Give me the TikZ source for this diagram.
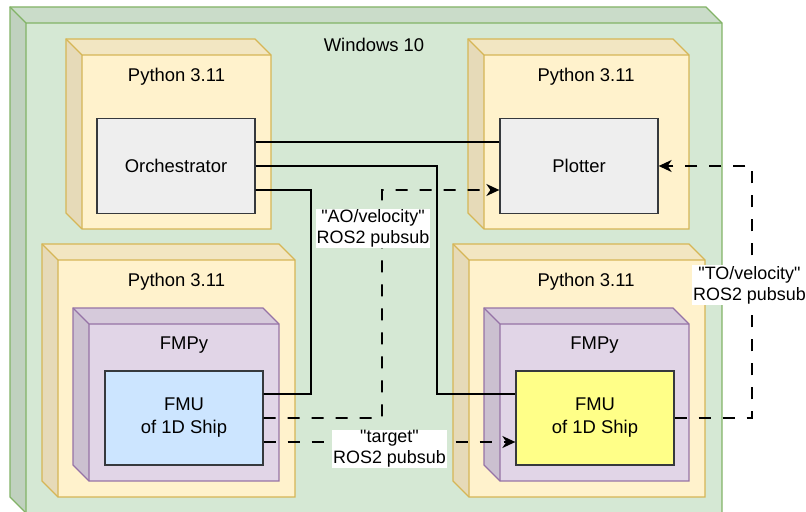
\documentclass[tikz,border=0pt]{standalone}
\usepackage{fontspec}
\setmainfont{Liberation Sans}[Ligatures=TeXOff]
\usetikzlibrary{arrows.meta}
\definecolor{winfill}{HTML}{D5E8D4}
\definecolor{wintop}{HTML}{CADCC9}
\definecolor{winleft}{HTML}{C0D1BF}
\definecolor{winstroke}{HTML}{82B366}
\definecolor{pyfill}{HTML}{FFF2CC}
\definecolor{pytop}{HTML}{F2E6C2}
\definecolor{pyleft}{HTML}{E6DAB8}
\definecolor{pystroke}{HTML}{D6B656}
\definecolor{fmfill}{HTML}{E1D5E7}
\definecolor{fmtop}{HTML}{D6CADB}
\definecolor{fmleft}{HTML}{CBC0D0}
\definecolor{fmstroke}{HTML}{9673A6}
\definecolor{grayfill}{HTML}{EEEEEE}
\definecolor{darkstroke}{HTML}{36393D}
\definecolor{bluefill}{HTML}{CCE5FF}
\definecolor{yelfill}{HTML}{FFFF88}
\newcommand\cubebox[8]{%
  \fill[#5] (#1+16,#2+16) rectangle (#1+#3,#2+#4);
  \fill[#6] (#1,#2) -- (#1+#3-16,#2) -- (#1+#3,#2+16) -- (#1+16,#2+16) -- cycle;
  \fill[#7] (#1,#2) -- (#1+16,#2+16) -- (#1+16,#2+#4) -- (#1,#2+#4-16) -- cycle;
  \draw[#8, line width=1.3bp, line join=miter] (#1,#2) -- (#1+#3-16,#2) -- (#1+#3,#2+16) -- (#1+#3,#2+#4) -- (#1+16,#2+#4) -- (#1,#2+#4-16) -- cycle;
  \draw[#8, line width=1.3bp] (#1,#2) -- (#1+16,#2+16) -- (#1+#3,#2+16) (#1+16,#2+16) -- (#1+16,#2+#4);
}
\tikzset{
  lbl/.style={font=\fontsize{18.5}{22}\selectfont, text=black, inner sep=0pt},
  comp/.style={draw=darkstroke, line width=1.3bp, minimum width=158bp, minimum height=95bp, inner sep=0pt, font=\fontsize{18.5}{23}\selectfont, align=center},
  wire/.style={line width=1.7bp, black},
  msg/.style={line width=1.7bp, black, dash pattern=on 12bp off 12bp, -{Stealth[length=13bp,width=12bp,inset=4bp]}},
  msgtext/.style={fill=white, inner sep=1bp, align=center, font=\fontsize{18}{21}\selectfont}
}
\begin{document}
\begin{tikzpicture}[x=1bp,y=-1bp]
\clip (0,0) rectangle (806,512);
\fill[white] (0,0) rectangle (806,512);
% Windows cube
\cubebox{10}{7}{712}{506}{winfill}{wintop}{winleft}{winstroke}
\node[lbl] (winlbl) at (374,45) {Windows 10};
% Python cubes
\cubebox{66}{39}{205}{190}{pyfill}{pytop}{pyleft}{pystroke}
\node[lbl] (py1) at (176.5,77) {Python 3.11};
\cubebox{468}{39}{221}{190}{pyfill}{pytop}{pyleft}{pystroke}
\node[lbl] (py2) at (586,77) {Python 3.11};
\cubebox{42}{244}{253}{253}{pyfill}{pytop}{pyleft}{pystroke}
\node[lbl] (py3) at (176.5,282) {Python 3.11};
\cubebox{453}{244}{252}{253}{pyfill}{pytop}{pyleft}{pystroke}
\node[lbl] (py4) at (586,282) {Python 3.11};
% FMPy cubes
\cubebox{73}{308}{206}{173}{fmfill}{fmtop}{fmleft}{fmstroke}
\node[lbl] (fm1) at (184,345) {FMPy};
\cubebox{484}{308}{205}{173}{fmfill}{fmtop}{fmleft}{fmstroke}
\node[lbl] (fm2) at (594.5,345) {FMPy};
% components
\node[comp, fill=grayfill] (orch) at (176,166) {Orchestrator};
\node[comp, fill=grayfill] (plot) at (579,166) {Plotter};
\node[comp, fill=bluefill, minimum height=94bp] (fmuA) at (184,418) {FMU\\of 1D Ship};
\node[comp, fill=yelfill, minimum height=94bp] (fmuB) at (595,418) {FMU\\of 1D Ship};
% solid connections
\draw[wire] ([yshift=24bp]orch.east) -- ([yshift=24bp]plot.west);
\coordinate (b1) at (437,166);
\draw[wire] (orch.east) -- (b1) |- ([yshift=24bp]fmuB.west);
\coordinate (b2) at (311,394);
\draw[wire] ([yshift=-24bp]orch.east) -| (b2) -- ([yshift=24bp]fmuA.east);
% dashed messages
\coordinate (d1) at (382,190);
\draw[msg] (fmuA.east) -| (d1) -- ([yshift=-24bp]plot.west);
\draw[msg] ([yshift=-24bp]fmuA.east) -- ([yshift=-24bp]fmuB.west);
\coordinate (d2) at (752,166);
\draw[msg] (fmuB.east) -| (d2) -- (plot.east);
% labels
\node[msgtext] (l1) at (373,228.5) {"AO/velocity"\\ROS2 pubsub};
\node[msgtext] (l2) at (389.5,449) {"target"\\ROS2 pubsub};
\node[msgtext] (l3) at (749.5,285) {"TO/velocity"\\ROS2 pubsub};
\end{tikzpicture}
\end{document}
